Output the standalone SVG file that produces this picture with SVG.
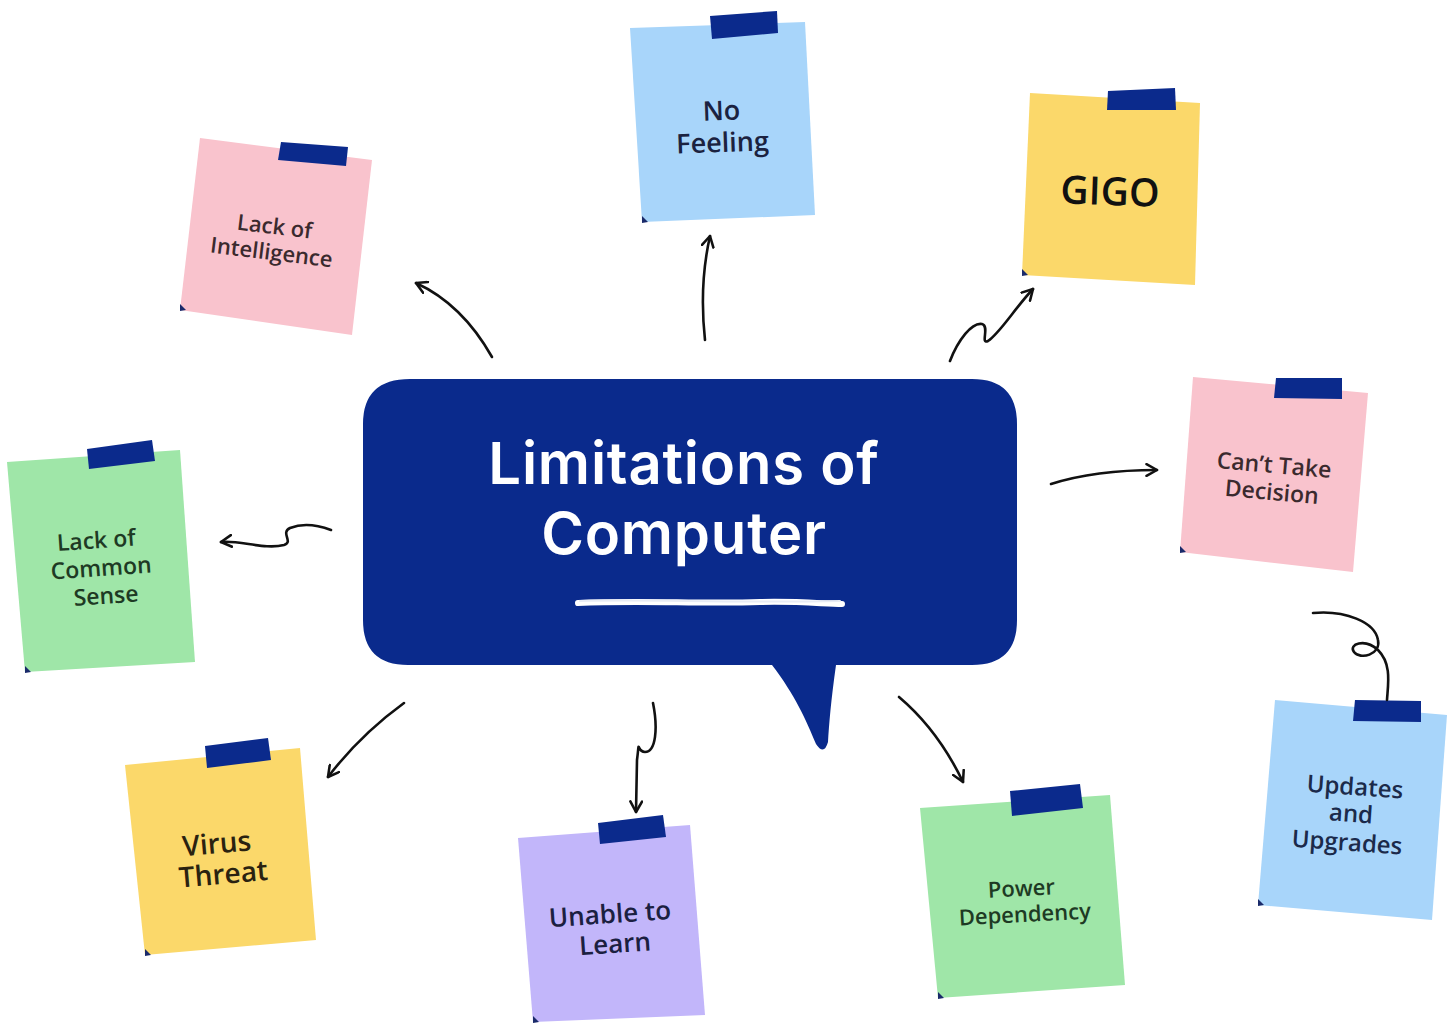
<svg xmlns="http://www.w3.org/2000/svg" width="1453" height="1024" viewBox="0 0 1453 1024">
<defs>
<style>
.tape{fill:#0b2a8c}
.corner{fill:#1a2a6a}
.pink{fill:#f9c3cd}
.blue{fill:#a8d5fa}
.yellow{fill:#fbd86a}
.green{fill:#9fe6a8}
.purple{fill:#c2b6fa}
.nt{font-family:"Open Sans","DejaVu Sans",sans-serif;font-weight:600;text-anchor:middle}
.arr{fill:none;stroke:#111;stroke-width:2.6;stroke-linecap:round;stroke-linejoin:round}
.title{font-family:Inter,"Liberation Sans",sans-serif;font-weight:600;fill:#fff;text-anchor:middle;font-size:58px;letter-spacing:0.8px}
</style>
<marker id="ah" viewBox="0 0 12 12" refX="10" refY="6" markerWidth="14" markerHeight="14" markerUnits="userSpaceOnUse" orient="auto">
<path d="M1,1 L10,6 L1,11" fill="none" stroke="#111" stroke-width="2.2" stroke-linecap="round" stroke-linejoin="round"/>
</marker>
</defs>
<rect width="1453" height="1024" fill="#fff"/>

<g id="center">
<path d="M410,379 H972 Q1017,379 1017,424 V620 Q1017,665 972,665 H836 C831,700 829,725 828,742 Q824,756 816,744 C806,720 795,695 772,665 H408 Q363,665 363,620 V424 Q363,379 410,379 Z" fill="#0a2a8c"/>
<text class="title" x="684" y="484">Limitations of</text>
<text class="title" x="684" y="554">Computer</text>
<path d="M578,603 C640,600 700,604 760,602 C800,601 825,604 842,604" fill="none" stroke="#fff" stroke-width="6" stroke-linecap="round"/>
<path d="M580,601 C650,599 720,603 840,601" fill="none" stroke="#e8ecf5" stroke-width="2" stroke-linecap="round"/>
</g>

<g id="lack-intelligence">
<polygon class="pink" points="200,138 372,160 352,335 180,310"/>
<polygon class="tape" points="281,142 348,147 346,166 278,160"/>
<polygon class="corner" points="180,304 186,310 180,311"/>
<g transform="rotate(7 273 240)" class="nt" fill="#3b2a2e" font-size="22">
<text x="273" y="234">Lack of</text>
<text x="273" y="260">Intelligence</text>
</g>
</g>

<g id="no-feeling">
<polygon class="blue" points="630,28 805,22 815,215 642,222"/>
<polygon class="tape" points="710,16 777,11 778,33 712,39"/>
<polygon class="corner" points="642,216 648,222 642,223"/>
<g transform="rotate(-2 722 126)" class="nt" fill="#1b2240" font-size="27">
<text x="722" y="120">No</text>
<text x="722" y="152">Feeling</text>
</g>
</g>

<g id="gigo">
<polygon class="yellow" points="1030,93 1200,103 1195,285 1022,275"/>
<polygon class="tape" points="1108,91 1175,88 1176,110 1107,110"/>
<polygon class="corner" points="1022,269 1028,275 1022,276"/>
<text class="nt" x="1110" y="205" font-size="39" fill="#111" transform="rotate(2 1110 192)">GIGO</text>
</g>

<g id="cant-take-decision">
<polygon class="pink" points="1193,377 1368,393 1353,572 1180,552"/>
<polygon class="tape" points="1276,378 1342,378 1342,399 1274,398"/>
<polygon class="corner" points="1180,546 1186,552 1180,553"/>
<g transform="rotate(5 1273 478)" class="nt" fill="#3b2a2e" font-size="23">
<text x="1273" y="473">Can’t Take</text>
<text x="1273" y="500">Decision</text>
</g>
</g>

<g id="updates-upgrades">
<polygon class="blue" points="1275,700 1447,715 1432,920 1258,905"/>
<polygon class="tape" points="1355,700 1421,701 1421,722 1353,721"/>
<polygon class="corner" points="1258,899 1264,905 1258,906"/>
<g transform="rotate(4 1352 815)" class="nt" fill="#1b2a4a" font-size="24">
<text x="1353" y="795">Updates</text>
<text x="1351" y="822">and</text>
<text x="1349" y="851">Upgrades</text>
</g>
</g>

<g id="power-dependency">
<polygon class="green" points="920,808 1110,795 1125,985 938,998"/>
<polygon class="tape" points="1010,791 1080,784 1083,808 1012,816"/>
<polygon class="corner" points="938,992 944,998 938,999"/>
<g transform="rotate(-3 1023 900)" class="nt" fill="#1e3a24" font-size="22">
<text x="1022" y="896">Power</text>
<text x="1024" y="922">Dependency</text>
</g>
</g>

<g id="unable-to-learn">
<polygon class="purple" points="518,838 690,825 705,1015 533,1022"/>
<polygon class="tape" points="598,823 663,815 666,837 600,844"/>
<polygon class="corner" points="533,1016 539,1022 533,1023"/>
<g transform="rotate(-4 612 930)" class="nt" fill="#1b2040" font-size="26">
<text x="611" y="923">Unable to</text>
<text x="614" y="953">Learn</text>
</g>
</g>

<g id="virus-threat">
<polygon class="yellow" points="125,765 300,748 316,940 145,955"/>
<polygon class="tape" points="205,746 268,738 271,760 207,768"/>
<polygon class="corner" points="145,949 151,955 145,956"/>
<g transform="rotate(-5 220 858)" class="nt" fill="#2a2210" font-size="28">
<text x="218" y="853">Virus</text>
<text x="222" y="884">Threat</text>
</g>
</g>

<g id="lack-common-sense">
<polygon class="green" points="7,462 180,450 195,662 25,672"/>
<polygon class="tape" points="87,449 152,440 155,461 89,469"/>
<polygon class="corner" points="25,666 31,672 25,673"/>
<g transform="rotate(-4 101 567)" class="nt" fill="#1e3a24" font-size="23">
<text x="98" y="548">Lack of</text>
<text x="101" y="576">Common</text>
<text x="104" y="604">Sense</text>
</g>
</g>

<g id="connectors">
<path class="arr" marker-end="url(#ah)" d="M492,357 Q462,304 416,283"/>
<path class="arr" marker-end="url(#ah)" d="M705,340 Q699,285 710,236"/>
<path class="arr" marker-end="url(#ah)" d="M950,361 C958,340 972,322 982,324 C990,326 980,345 988,341 C1000,333 1015,308 1033,289"/>
<path class="arr" marker-end="url(#ah)" d="M1051,484 Q1095,470 1157,470"/>
<path class="arr" d="M1313,613 C1345,610 1375,622 1378,640 C1381,655 1360,660 1354,652 C1348,644 1365,638 1378,650 C1392,664 1388,684 1387,700"/>
<path class="arr" marker-end="url(#ah)" d="M899,697 Q938,730 963,782"/>
<path class="arr" marker-end="url(#ah)" d="M653,703 C658,728 656,752 645,752 C636,752 640,736 637,760 L636,812"/>
<path class="arr" marker-end="url(#ah)" d="M404,703 Q360,735 328,777"/>
<path class="arr" marker-end="url(#ah)" d="M331,530 C315,524 300,524 290,528 C280,533 294,542 284,545 C265,550 240,540 221,542"/>
</g>
</svg>
